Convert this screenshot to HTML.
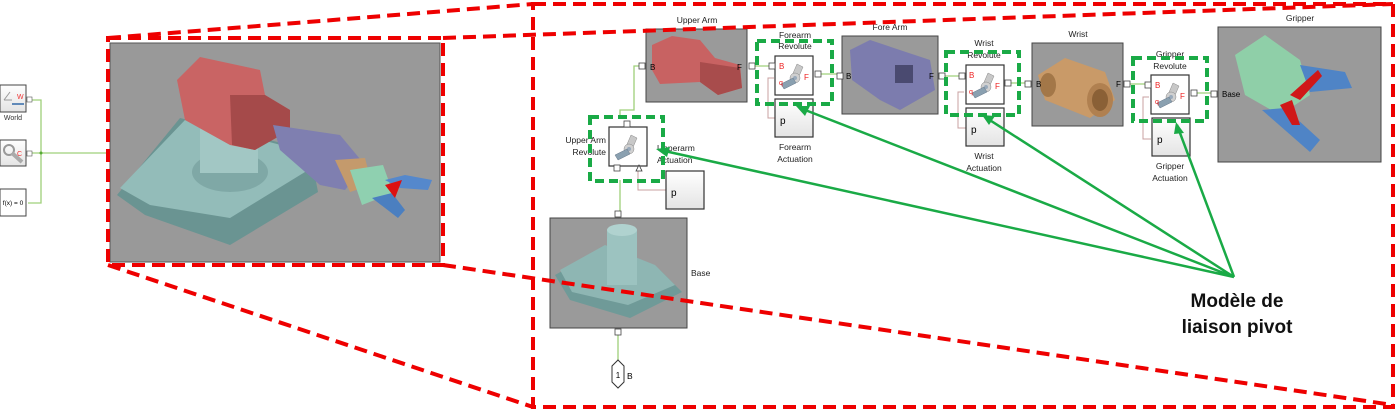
<!DOCTYPE html>
<html><head><meta charset="utf-8"><style>
html,body{margin:0;padding:0;background:#fff;width:1398px;height:411px;overflow:hidden}
svg{display:block}
text{font-family:"Liberation Sans",sans-serif}
</style></head><body>
<svg width="1398" height="411" viewBox="0 0 1398 411" xmlns="http://www.w3.org/2000/svg">
<defs>
<linearGradient id="wg" x1="0" y1="0" x2="0" y2="1"><stop offset="0" stop-color="#fff"/><stop offset="1" stop-color="#e4e4e4"/></linearGradient>
<g id="rev">
<rect x="0" y="0" width="38" height="39" fill="#fff" stroke="#333" stroke-width="1.2"/>
<path d="M22 8 l6 3 -6 14 -6 -3z" fill="#c8c8c8" stroke="#888" stroke-width="0.5"/>
<circle cx="20" cy="22" r="5" fill="#d0d0d0" stroke="#888" stroke-width="0.5"/>
<circle cx="20" cy="22" r="2" fill="#9ab"/>
<path d="M6 28 l12 -6 3 5 -12 6z" fill="#8aa0b0" stroke="#678" stroke-width="0.5"/>
</g>
<g id="act">
<rect x="0" y="0" width="38" height="38" fill="url(#wg)" stroke="#333" stroke-width="1.2"/>
<text x="5" y="25" font-size="10">p</text>
</g>
<g id="port"><rect x="-3" y="-3" width="6" height="6" fill="#fff" stroke="#444" stroke-width="0.8"/></g>
</defs>

<!-- left blocks -->
<rect x="0" y="85" width="26" height="27" fill="url(#wg)" stroke="#444"/>
<text x="17" y="99" font-size="7" fill="#e33">W</text>
<path d="M4 100 l6 -8 M4 100 h8" stroke="#999" stroke-width="1"/>
<path d="M12 104 h12" stroke="#3369a8" stroke-width="1.5"/>
<text x="13" y="120" font-size="7" text-anchor="middle" fill="#333">World</text>
<rect x="0" y="140" width="26" height="26" fill="url(#wg)" stroke="#444"/>
<circle cx="9" cy="150" r="5" fill="none" stroke="#999" stroke-width="2"/>
<path d="M12 153 l10 9" stroke="#aaa" stroke-width="4"/>
<text x="17" y="156" font-size="7" fill="#e33">C</text>
<rect x="0" y="189" width="26" height="27" fill="#fff" stroke="#444"/>
<text x="13" y="205" font-size="6.5" text-anchor="middle">f(x) = 0</text>
<path d="M28 100 h13 v103 h-13 M28 153 h82" stroke="#9fd07a" stroke-width="1.3" fill="none"/>
<circle cx="41" cy="153" r="1.5" fill="#5a3"/>
<rect x="27" y="97" width="5" height="5" fill="#fff" stroke="#555" stroke-width=".6"/>
<rect x="27" y="151" width="5" height="5" fill="#fff" stroke="#555" stroke-width=".6"/>

<!-- robot image -->
<rect x="110" y="43" width="330" height="219" fill="#999" stroke="#555"/>
<polygon points="117,195 180,118 310,150 318,192 230,245 145,215" fill="#6a9492"/>
<polygon points="120,188 185,120 300,150 305,172 230,218 150,205" fill="#93bcb9"/>
<ellipse cx="230" cy="172" rx="38" ry="20" fill="#7fa8a6"/>
<rect x="200" y="125" width="58" height="48" fill="#a2c7c4"/>
<polygon points="177,80 200,57 260,70 265,95 290,110 290,130 270,140 255,150 230,145 185,120" fill="#c96464"/>
<polygon points="230,95 265,95 290,110 290,130 255,150 232,145" fill="#a54a4a"/>
<polygon points="273,125 340,135 365,165 345,190 320,185 280,150" fill="#7f7fb0"/>
<polygon points="335,160 365,158 372,185 350,192" fill="#c49a6c"/>
<polygon points="350,170 383,165 393,193 362,205" fill="#8fd0b0"/>
<polygon points="385,180 405,175 432,180 428,190 400,188" fill="#5588cc"/>
<polygon points="372,198 392,193 405,210 398,218" fill="#4b7fc0"/>
<polygon points="385,185 402,180 395,198" fill="#dd1111"/>

<!-- right diagram wires -->
<g stroke="#9fd07a" stroke-width="1.3" fill="none">
<path d="M642 66 h-8 v44 h-14 v6 M620 180 v34 M618 332 v28"/>
<path d="M750 66 h22 M818 74 h22 M941 76 h22 M1006 83 h22 M1126 84 h22 M1192 93 h22"/>
</g>
<g stroke="#c8a0a0" stroke-width="1" fill="none">
<path d="M774 78 h-6 v40 h8 M964 92 h-6 v36 h8 M1149 97 h-6 v42 h8 M638 168 v22 h28"/>
</g>

<!-- Upper Arm -->
<text x="697" y="23" font-size="8.5" text-anchor="middle" fill="#222">Upper Arm</text>
<rect x="646" y="29" width="101" height="73" fill="#9a9a9a" stroke="#444"/>
<polygon points="652,45 672,36 700,40 715,58 740,65 742,88 718,95 700,82 660,84 652,70" fill="#c86262"/>
<polygon points="700,62 740,68 742,88 718,95 700,82" fill="#a84c4c"/>
<text x="650" y="70" font-size="8">B</text><text x="737" y="70" font-size="8">F</text>
<use href="#port" x="642" y="66"/><use href="#port" x="752" y="66"/>

<!-- Forearm revolute -->
<text x="795" y="38" font-size="8.5" text-anchor="middle" fill="#222">Forearm</text>
<text x="795" y="49" font-size="8.5" text-anchor="middle" fill="#222">Revolute</text>
<use href="#rev" x="775" y="56"/>
<text x="779" y="69" font-size="8" fill="#e22">B</text><text x="804" y="80" font-size="8" fill="#e22">F</text><text x="779" y="85" font-size="7" fill="#e22">q</text>
<use href="#act" x="775" y="99"/>
<text x="795" y="150" font-size="8.5" text-anchor="middle" fill="#222">Forearm</text>
<text x="795" y="162" font-size="8.5" text-anchor="middle" fill="#222">Actuation</text>
<use href="#port" x="772" y="66"/><use href="#port" x="818" y="74"/>
<rect x="757" y="41" width="75" height="63" fill="none" stroke="#1aaa46" stroke-width="4" stroke-dasharray="9,5"/>

<!-- Fore Arm -->
<text x="890" y="30" font-size="8.5" text-anchor="middle" fill="#222">Fore Arm</text>
<rect x="842" y="36" width="96" height="78" fill="#9a9a9a" stroke="#444"/>
<polygon points="850,50 870,40 930,60 935,90 900,110 880,100 852,80" fill="#7c7cae"/>
<rect x="895" y="65" width="18" height="18" fill="#4a4a70"/>
<text x="846" y="79" font-size="8">B</text><text x="929" y="79" font-size="8">F</text>
<use href="#port" x="840" y="76"/><use href="#port" x="942" y="76"/>

<!-- Wrist revolute -->
<text x="984" y="46" font-size="8.5" text-anchor="middle" fill="#222">Wrist</text>
<text x="984" y="58" font-size="8.5" text-anchor="middle" fill="#222">Revolute</text>
<use href="#rev" x="966" y="65"/>
<text x="969" y="78" font-size="8" fill="#e22">B</text><text x="995" y="89" font-size="8" fill="#e22">F</text><text x="969" y="94" font-size="7" fill="#e22">q</text>
<use href="#act" x="966" y="108"/>
<text x="984" y="159" font-size="8.5" text-anchor="middle" fill="#222">Wrist</text>
<text x="984" y="171" font-size="8.5" text-anchor="middle" fill="#222">Actuation</text>
<use href="#port" x="962" y="76"/><use href="#port" x="1008" y="83"/>
<rect x="946" y="52" width="73" height="63" fill="none" stroke="#1aaa46" stroke-width="4" stroke-dasharray="9,5"/>

<!-- Wrist -->
<text x="1078" y="37" font-size="8.5" text-anchor="middle" fill="#222">Wrist</text>
<rect x="1032" y="43" width="91" height="83" fill="#9a9a9a" stroke="#444"/>
<polygon points="1038,75 1065,58 1105,72 1115,100 1090,118 1045,100" fill="#c99a68"/>
<ellipse cx="1100" cy="100" rx="13" ry="17" fill="#b08050"/>
<ellipse cx="1100" cy="100" rx="8" ry="11" fill="#8a6036"/>
<ellipse cx="1048" cy="85" rx="8" ry="12" fill="#a37748"/>
<text x="1036" y="87" font-size="8">B</text><text x="1116" y="87" font-size="8">F</text>
<use href="#port" x="1028" y="84"/><use href="#port" x="1127" y="84"/>

<!-- Gripper revolute -->
<text x="1170" y="57" font-size="8.5" text-anchor="middle" fill="#222">Gripper</text>
<text x="1170" y="69" font-size="8.5" text-anchor="middle" fill="#222">Revolute</text>
<use href="#rev" x="1151" y="75"/>
<text x="1155" y="88" font-size="8" fill="#e22">B</text><text x="1180" y="99" font-size="8" fill="#e22">F</text><text x="1155" y="104" font-size="7" fill="#e22">q</text>
<use href="#act" x="1152" y="118"/>
<text x="1170" y="169" font-size="8.5" text-anchor="middle" fill="#222">Gripper</text>
<text x="1170" y="181" font-size="8.5" text-anchor="middle" fill="#222">Actuation</text>
<use href="#port" x="1148" y="85"/><use href="#port" x="1194" y="93"/>
<rect x="1133" y="58" width="74" height="63" fill="none" stroke="#1aaa46" stroke-width="4" stroke-dasharray="9,5"/>

<!-- Gripper -->
<text x="1300" y="21" font-size="8.5" text-anchor="middle" fill="#222">Gripper</text>
<rect x="1218" y="27" width="163" height="135" fill="#9a9a9a" stroke="#444"/>
<polygon points="1235,55 1265,35 1300,60 1310,95 1280,115 1245,95" fill="#8fcfa8"/>
<polygon points="1300,65 1345,72 1352,88 1310,92" fill="#4f84c6"/>
<polygon points="1262,110 1285,108 1320,140 1310,152" fill="#4f84c6"/>
<polygon points="1290,95 1318,70 1322,76 1300,100" fill="#d01818"/>
<polygon points="1280,105 1292,100 1300,125 1292,125" fill="#d01818"/>
<text x="1222" y="97" font-size="8">Base</text>
<use href="#port" x="1214" y="94"/>

<!-- Upper arm revolute -->
<text x="606" y="143" font-size="8.5" text-anchor="end" fill="#222">Upper Arm</text>
<text x="606" y="155" font-size="8.5" text-anchor="end" fill="#222">Revolute</text>
<use href="#rev" x="609" y="127"/>
<use href="#port" x="627" y="124"/><use href="#port" x="617" y="168"/>
<path d="M636 171 l3 -6 3 6z" fill="#fff" stroke="#333" stroke-width=".8"/>
<text x="657" y="151" font-size="8.5" fill="#222">Upperarm</text>
<text x="657" y="163" font-size="8.5" fill="#222">Actuation</text>
<use href="#act" x="666" y="171"/>
<rect x="590" y="117" width="73" height="64" fill="none" stroke="#1aaa46" stroke-width="4" stroke-dasharray="9,5"/>

<!-- Base -->
<use href="#port" x="618" y="214"/>
<rect x="550" y="218" width="137" height="110" fill="#9a9a9a" stroke="#444"/>
<polygon points="555,275 600,250 660,270 682,292 630,318 570,300" fill="#6f9a98"/>
<polygon points="560,270 605,245 655,265 675,285 628,305 572,292" fill="#8eb6b3"/>
<rect x="607" y="230" width="30" height="55" fill="#9cc3c0"/>
<ellipse cx="622" cy="230" rx="15" ry="6" fill="#b0d2cf"/>
<text x="691" y="276" font-size="8.5" fill="#222">Base</text>
<use href="#port" x="618" y="332"/>
<polygon points="612,366 618,360 624,366 624,382 618,388 612,382" fill="#fff" stroke="#333"/>
<text x="618" y="378" font-size="8" text-anchor="middle">1</text>
<text x="627" y="379" font-size="8.5">B</text>

<!-- green arrows -->
<g stroke="#1aaa46" stroke-width="2.5" fill="none">
<path d="M1234 277 L660 150 M1234 277 L800 108 M1234 277 L985 117 M1234 277 L1177 125"/>
</g>
<g fill="#1aaa46">
<polygon points="656,149 670,147 667,157"/>
<polygon points="796,106 810,106 805,116"/>
<polygon points="982,115 995,116 989,125"/>
<polygon points="1176,122 1184,133 1174,134"/>
</g>

<text x="1237" y="307" font-size="19" font-weight="bold" text-anchor="middle" fill="#111">Modèle de</text>
<text x="1237" y="333" font-size="19" font-weight="bold" text-anchor="middle" fill="#111">liaison pivot</text>

<!-- red dashed -->
<g stroke="#ee0000" stroke-width="4" fill="none" stroke-dasharray="13,7">
<rect x="108" y="38" width="335" height="227"/>
<rect x="533" y="4" width="860" height="403"/>
<path d="M108 38 L533 4 M443 38 L1393 4 M108 265 L533 407 M443 265 L1393 405"/>
</g>
</svg>
</body></html>
